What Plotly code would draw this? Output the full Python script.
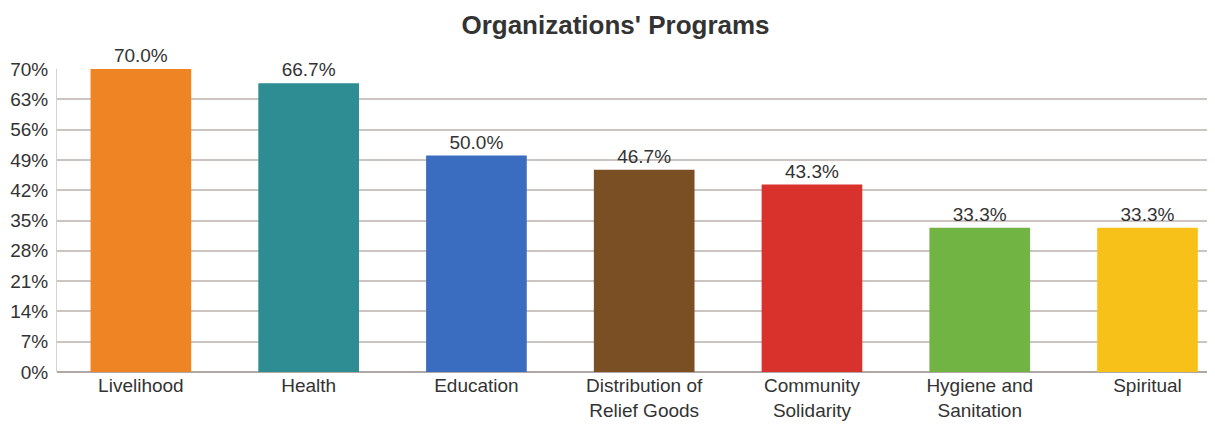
import plotly.graph_objects as go

categories = ["Livelihood", "Health", "Education", "Distribution of<br>Relief Goods",
              "Community<br>Solidarity", "Hygiene and<br>Sanitation", "Spiritual"]
values = [70.0, 66.7, 50.0, 46.7, 43.3, 33.3, 33.3]
colors = ["#EE8424", "#2E8C93", "#3A6DBF", "#7A4F24", "#D9312B", "#72B443", "#F8C11A"]
y_ticks = [0, 7, 14, 21, 28, 35, 42, 49, 56, 63, 70]

fig = go.Figure(go.Bar(
    x=list(range(len(categories))), y=values,
    marker=dict(color=colors, line=dict(width=0)),
    width=0.6,
    text=[f"{v:.1f}%" for v in values], textposition="outside",
    textfont=dict(size=19, color="#333333"),
    cliponaxis=False,
))

fig.update_layout(
    width=1215, height=440,
    margin=dict(l=49, r=0, t=61, b=76),
    paper_bgcolor="white", plot_bgcolor="white",
    font=dict(family="Liberation Sans, Arial, sans-serif", color="#333333"),
    title=dict(text="<b>Organizations' Programs</b>", x=0.5, xanchor="center",
               y=0.962, yanchor="middle", font=dict(size=26, color="#333333")),
    showlegend=False,
    bargap=0.4,
)
fig.update_xaxes(
    tickmode="array", tickvals=list(range(len(categories))), ticktext=categories,
    range=[-0.5, 6.45], showgrid=False, zeroline=False, showline=False,
    tickfont=dict(size=19, color="#333333"), ticks="",
)
fig.update_yaxes(
    range=[0, 70], tickvals=y_ticks, ticktext=[f"{t}%" for t in y_ticks],
    showgrid=True, gridcolor="#cbc4c0", gridwidth=1.5,
    zeroline=True, zerolinecolor="#b0a8a4", zerolinewidth=1.5,
    showline=True, linecolor="#d8d2cf", linewidth=1,
    tickfont=dict(size=19, color="#333333"), ticks="", ticklabelstandoff=4,
)

fig.write_html("out.html")
